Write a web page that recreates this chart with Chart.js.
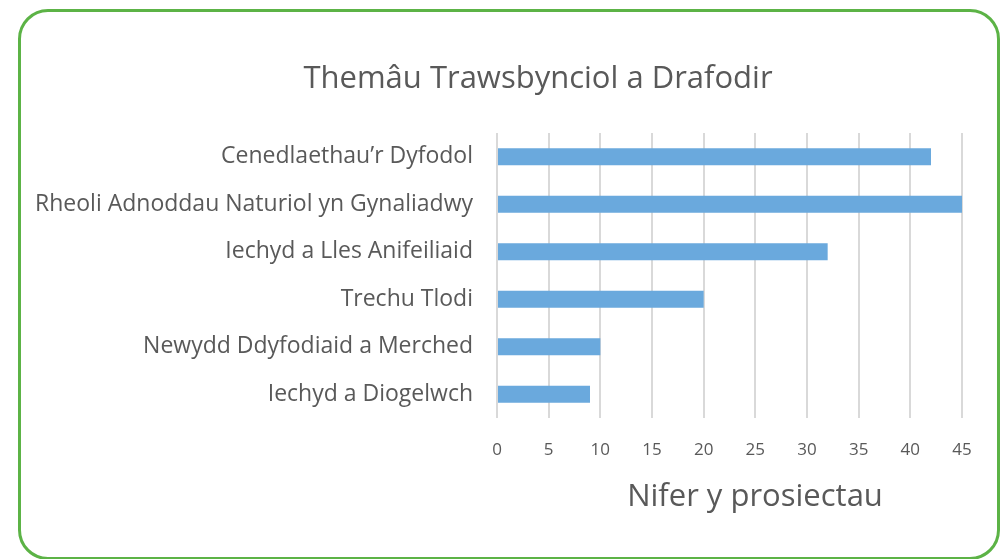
<!DOCTYPE html>
<html>
<head>
<meta charset="utf-8">
<script src="https://cdn.jsdelivr.net/npm/chart.js@4"></script>
<style>
  html, body { margin: 0; padding: 0; background: #fff; }
  body { width: 1006px; height: 559px; position: relative; overflow: hidden; }
  #frame {
    position: absolute; left: 18px; top: 9px; width: 976px; height: 545px;
    border: 3px solid #5cb346; border-radius: 30px;
  }
  #wrap { position: absolute; left: 0; top: 0; width: 1006px; height: 559px; }
</style>
</head>
<body>
<div id="frame"></div>
<div id="wrap"><canvas id="chart"></canvas></div>
<script>
// Data
const chartTitle = 'Themâu Trawsbynciol a Drafodir';
const axisTitle = 'Nifer y prosiectau';
const categories = [
  'Cenedlaethau\u2019r Dyfodol',
  'Rheoli Adnoddau Naturiol yn Gynaliadwy',
  'Iechyd a Lles Anifeiliaid',
  'Trechu Tlodi',
  'Newydd Ddyfodiaid a Merched',
  'Iechyd a Diogelwch'
];
const projectCounts = [42, 45, 32, 20, 10, 9];
const xTicks = [0, 5, 10, 15, 20, 25, 30, 35, 40, 45];

const textColor = '#595959';
const fontFamily = '"Open Sans", "DejaVu Sans", sans-serif';

// Titles drawn on the canvas at their own spots
const captions = {
  id: 'captions',
  afterDraw(chart) {
    const ctx = chart.ctx;
    ctx.save();
    ctx.fillStyle = textColor;
    ctx.textAlign = 'center';
    ctx.textBaseline = 'middle';
    ctx.font = '31px ' + fontFamily;
    ctx.fillText(chartTitle, 538, 79);
    ctx.font = '31px ' + fontFamily;
    ctx.fillText(axisTitle, 755, 497);
    ctx.restore();
  }
};

const ctx = document.getElementById('chart').getContext('2d');
new Chart(ctx, {
  type: 'bar',
  data: {
    labels: categories,
    datasets: [{
      data: projectCounts,
      backgroundColor: '#6aa9dd',
      borderWidth: 0,
      categoryPercentage: 1.0,
      barPercentage: 0.36
    }]
  },
  options: {
    indexAxis: 'y',
    responsive: true,
    maintainAspectRatio: false,
    animation: false,
    layout: { padding: { top: 133, right: 44, bottom: 0, left: 0 } },
    plugins: {
      legend: { display: false },
      tooltip: { enabled: false },
      title: { display: false }
    },
    scales: {
      x: {
        min: 0,
        max: 45,
        afterBuildTicks: (scale) => {
          scale.ticks = xTicks.map(v => ({ value: v }));
        },
        afterFit: (scale) => { scale.height = 559 - 418; },
        grid: { color: '#d9d9d9', lineWidth: 2, drawTicks: false },
        border: { display: false },
        ticks: { color: textColor, font: { family: fontFamily, size: 17 }, padding: 22 }
      },
      y: {
        afterFit: (scale) => { scale.width = 497; },
        grid: { display: false, drawTicks: false },
        border: { display: false },
        ticks: { color: textColor, font: { family: fontFamily, size: 23 }, padding: 24 }
      }
    }
  },
  plugins: [captions]
});
</script>
</body>
</html>
